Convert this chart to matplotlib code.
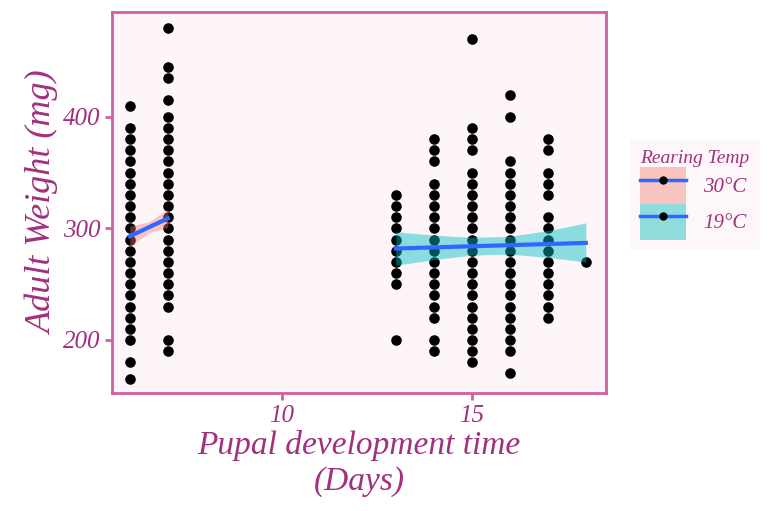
import matplotlib.pyplot as plt
from matplotlib.patches import Patch
from matplotlib.lines import Line2D

# observed weights per pupal development day (10 mg steps)
days_30 = [6, 7]
weights_30 = [
    [410, 390, 380, 370, 360, 350, 340, 330, 320, 310, 300, 290, 280, 270,
     260, 250, 240, 230, 220, 210, 200, 180, 165],
    [480, 445, 435, 415, 400, 390, 380, 370, 360, 350, 340, 330, 320, 310,
     300, 290, 280, 270, 260, 250, 240, 230, 200, 190],
]
days_19 = [13, 14, 15, 16, 17, 18]
weights_19 = [
    [330, 320, 310, 300, 290, 280, 270, 260, 250, 200],
    [380, 370, 360, 340, 330, 320, 310, 300, 290, 280, 270, 260, 250, 240,
     230, 220, 200, 190],
    [470, 390, 380, 370, 350, 340, 330, 320, 310, 300, 290, 280, 270, 260,
     250, 240, 230, 220, 210, 200, 190, 180],
    [420, 400, 360, 350, 340, 330, 320, 310, 300, 290, 280, 270, 260, 250,
     240, 230, 220, 210, 200, 190, 170],
    [380, 370, 350, 340, 330, 310, 300, 290, 280, 270, 260, 250, 240, 230, 220],
    [270],
]

# linear fits with confidence band
fit30_x = [6, 6.5, 7]
fit30_y = [293, 301, 309]
fit30_lo = [284, 296, 301]
fit30_hi = [302, 306, 317]

fit19_x = [13, 14, 15, 16, 17, 18]
fit19_y = [282, 283, 284, 285, 286, 287]
fit19_lo = [267, 272, 276, 277, 274, 270]
fit19_hi = [297, 294, 292, 293, 298, 305]

pink = '#d0609f'
text_col = '#a3307c'
panel_bg = '#fdf5f8'
fam = 'Liberation Serif'

fig = plt.figure(figsize=(7.69, 5.11), dpi=100)
ax = fig.add_axes([0.1456, 0.231, 0.6424, 0.7455])
ax.set_facecolor(panel_bg)

for d, ws in zip(days_30 + days_19, weights_30 + weights_19):
    ax.scatter([d] * len(ws), ws, s=58, color='black', lw=0, zorder=2)

ax.fill_between(fit30_x, fit30_lo, fit30_hi, color='#f8766d', alpha=0.4, lw=0, zorder=3)
ax.fill_between(fit19_x, fit19_lo, fit19_hi, color='#00bfc4', alpha=0.45, lw=0, zorder=3)
ax.plot(fit30_x, fit30_y, color='#3366ff', lw=3, zorder=4)
ax.plot(fit19_x, fit19_y, color='#3366ff', lw=3, zorder=4)

ax.set_xlim(5.53, 18.53)
ax.set_ylim(152.5, 494)
ax.set_xticks([10, 15])
ax.set_yticks([200, 300, 400])
for s in ax.spines.values():
    s.set_color(pink)
    s.set_linewidth(2)
ax.tick_params(colors=pink, width=2, length=5, labelcolor=text_col, labelsize=18)
for lab in ax.get_xticklabels() + ax.get_yticklabels():
    lab.set_fontfamily(fam)
    lab.set_fontstyle('italic')

ax.set_xlabel('Pupal development time\n(Days)', fontsize=24, color=text_col,
              linespacing=1.25, labelpad=2, family=fam, style='italic')
ax.set_ylabel('Adult Weight (mg)', fontsize=26, color=text_col, labelpad=2,
              family=fam, style='italic')

handles = [
    (Patch(fc='#f9c4c0', ec='none'),
     Line2D([], [], color='#3366ff', lw=2.5, marker='o', mfc='black', mec='black', ms=5)),
    (Patch(fc='#8fdcdc', ec='none'),
     Line2D([], [], color='#3366ff', lw=2.5, marker='o', mfc='black', mec='black', ms=5)),
]
leg = fig.legend(handles, ['30°C', '19°C'], loc='upper left',
                 bbox_to_anchor=(630 / 769, 1 - 140 / 511),
                 title='Rearing Temp', frameon=True, fancybox=False,
                 handlelength=2.2, handleheight=2.3, labelspacing=0.0,
                 handletextpad=0.8, borderpad=0.5, borderaxespad=0.0,
                 prop={'family': fam, 'style': 'italic', 'size': 15},
                 title_fontproperties={'family': fam, 'style': 'italic', 'size': 14})
leg._legend_box.align = 'left'
leg.get_frame().set_facecolor(panel_bg)
leg.get_frame().set_edgecolor('none')
leg.get_title().set_color(text_col)
for t in leg.get_texts():
    t.set_color(text_col)

fig.savefig('out.png', dpi=100, facecolor='white')
